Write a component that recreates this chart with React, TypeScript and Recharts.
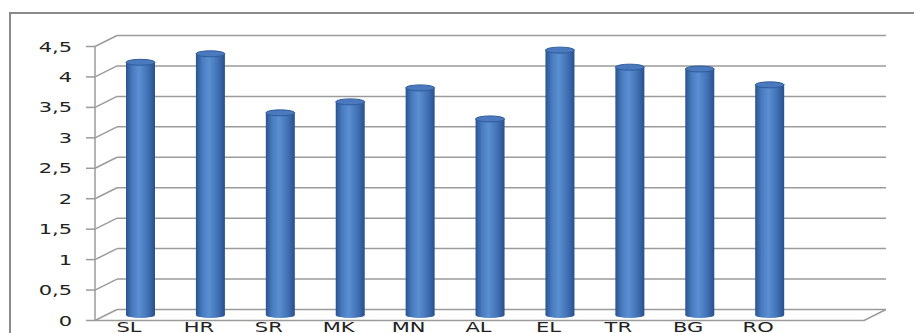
import { BarChart, Bar, XAxis, YAxis, CartesianGrid, ReferenceArea } from 'recharts';

// countries on the category axis (the last slot is empty in the original)
const countries = ['SL', 'HR', 'SR', 'MK', 'MN', 'AL', 'EL', 'TR', 'BG', 'RO', ''];
const scores = [4.15, 4.29, 3.32, 3.5, 3.73, 3.22, 4.35, 4.07, 4.04, 3.78, null];
const yTicks = [0, 0.5, 1, 1.5, 2, 2.5, 3, 3.5, 4, 4.5];
const yTickLabels = ['0', '0,5', '1', '1,5', '2', '2,5', '3', '3,5', '4', '4,5'];

const data = countries.map((c, i) => ({ country: c, score: scores[i] }));

// fake 3D depth: back wall is up/right of the bars, front edge down/left
const DX = 11;
const DY = 5.5;
const GRID = '#9b9b9b';
const TEXT = '#222';
const FONT = '"DejaVu Sans", sans-serif';

function GridLine(props: any) {
  const { x1, x2, y1 } = props;
  return (
    <g>
      <line x1={x1 + DX} y1={y1 - DY} x2={x2 + DX} y2={y1 - DY} stroke={GRID} strokeWidth={1.5} />
      <line x1={x1 - DX} y1={y1 + DY} x2={x1 + DX} y2={y1 - DY} stroke={GRID} strokeWidth={1.5} />
      <line x1={x1 - DX - 9} y1={y1 + DY} x2={x1 - DX} y2={y1 + DY} stroke={GRID} strokeWidth={1.5} />
    </g>
  );
}

function Frame(props: any) {
  const { x, y, width, height } = props;
  const bottom = y + height;
  return (
    <g fill="none" stroke={GRID} strokeWidth={1.5}>
      <line x1={x - DX} y1={y + DY} x2={x - DX} y2={bottom + DY} />
      <polyline
        points={`${x - DX},${bottom + DY} ${x + width - DX},${bottom + DY} ${x + width + DX},${bottom - DY}`}
      />
    </g>
  );
}

function Cylinder(props: any) {
  const { x, y, width, height } = props;
  if (!height || height <= 0) return null;
  const rx = width / 2;
  const ry = 3;
  const cx = x + rx;
  return (
    <g>
      <rect x={x} y={y} width={width} height={height} fill="url(#cyl)" />
      <ellipse cx={cx} cy={y + height} rx={rx} ry={ry} fill="url(#cyl)" />
      <ellipse cx={cx} cy={y} rx={rx} ry={ry} fill="#4a79bd" stroke="#2f5b9a" strokeWidth={1} />
    </g>
  );
}

// the original labels are stretched sideways, so scale them horizontally
function YTick(props: any) {
  const { x, y, index } = props;
  return (
    <text
      transform={`translate(${x},${y + DY + 5}) scale(1.5,1)`}
      textAnchor="end"
      fontSize={14}
      fontFamily={FONT}
      fill={TEXT}
    >
      {yTickLabels[index]}
    </text>
  );
}

function XTick(props: any) {
  const { x, y, payload } = props;
  return (
    <text
      transform={`translate(${x - 12},${y + 16.5}) scale(1.45,1)`}
      textAnchor="middle"
      fontSize={14.5}
      fontFamily={FONT}
      fill={TEXT}
    >
      {payload.value}
    </text>
  );
}

export default function App() {
  return (
    <div style={{ position: 'absolute', left: 0, top: 0, width: 914, height: 333, overflow: 'hidden', background: '#fff' }}>
      <div
        style={{
          position: 'absolute',
          left: 9,
          top: 12,
          width: 930,
          height: 340,
          border: '2px solid #8a8a8a',
        }}
      />
      <div style={{ position: 'absolute', left: 0, top: 0 }}>
        <BarChart width={914} height={333} data={data} margin={{ top: 41, right: 39, left: 0, bottom: 0 }}>
          <defs>
            <linearGradient id="cyl" x1="0" y1="0" x2="1" y2="0">
              <stop offset="0%" stopColor="#2a5390" />
              <stop offset="22%" stopColor="#497bbf" />
              <stop offset="45%" stopColor="#5a8fd2" />
              <stop offset="75%" stopColor="#4272b6" />
              <stop offset="100%" stopColor="#28508c" />
            </linearGradient>
          </defs>
          <CartesianGrid vertical={false} horizontal={(p: any) => <GridLine {...p} />} />
          <ReferenceArea y1={0} y2={4.5} shape={(p: any) => <Frame {...p} />} />
          <XAxis
            dataKey="country"
            height={18}
            axisLine={false}
            tickLine={false}
            tickSize={0}
            tickMargin={0}
            interval={0}
            tick={(p: any) => <XTick {...p} />}
          />
          <YAxis
            width={106}
            domain={[0, 4.5]}
            ticks={yTicks}
            axisLine={false}
            tickLine={false}
            tickSize={0}
            tickMargin={34}
            tick={(p: any) => <YTick {...p} />}
          />
          <Bar dataKey="score" barSize={29} shape={(p: any) => <Cylinder {...p} />} isAnimationActive={false} />
        </BarChart>
      </div>
    </div>
  );
}
